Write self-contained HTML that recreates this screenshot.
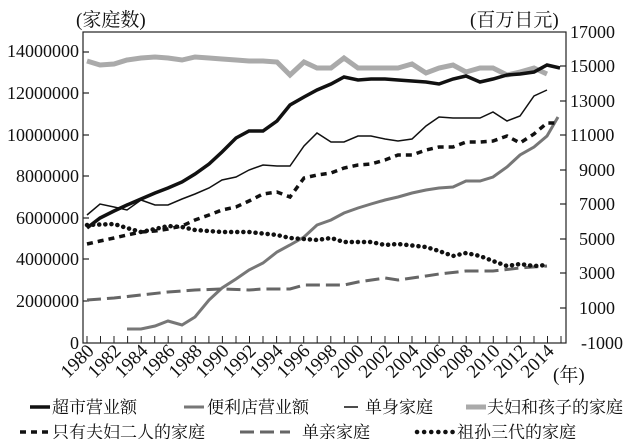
<!DOCTYPE html>
<html><head><meta charset="utf-8"><style>
body{margin:0;background:#fff}
text{font-family:"Liberation Serif","Noto Serif CJK SC",serif;fill:#111}
</style></head><body>
<svg width="624" height="439" viewBox="0 0 624 439" xmlns="http://www.w3.org/2000/svg">
<rect width="624" height="439" fill="#fff"/>
<text x="76" y="26" font-size="19">(家庭数)</text>
<text x="470" y="26" font-size="19">(百万日元)</text>
<rect x="83" y="32" width="483" height="311" fill="none" stroke="#222" stroke-width="1.2"/>
<g font-size="18" text-anchor="end">
<text x="79" y="57">14000000</text><text x="79" y="99">12000000</text><text x="79" y="141">10000000</text>
<text x="79" y="182">8000000</text><text x="79" y="224">6000000</text><text x="79" y="265">4000000</text>
<text x="79" y="307">2000000</text><text x="79" y="349">0</text>
</g>
<g stroke="#222" stroke-width="1.2">
<line x1="83" y1="52" x2="89" y2="52"/><line x1="83" y1="93" x2="89" y2="93"/><line x1="83" y1="135" x2="89" y2="135"/><line x1="83" y1="176" x2="89" y2="176"/><line x1="83" y1="218" x2="89" y2="218"/><line x1="83" y1="259" x2="89" y2="259"/><line x1="83" y1="301" x2="89" y2="301"/>
<line x1="566" y1="66" x2="560" y2="66"/><line x1="566" y1="101" x2="560" y2="101"/><line x1="566" y1="135" x2="560" y2="135"/><line x1="566" y1="170" x2="560" y2="170"/><line x1="566" y1="204" x2="560" y2="204"/><line x1="566" y1="239" x2="560" y2="239"/><line x1="566" y1="273" x2="560" y2="273"/><line x1="566" y1="308" x2="560" y2="308"/>
</g>
<g font-size="18">
<text x="570" y="38">17000</text><text x="570" y="72">15000</text><text x="570" y="107">13000</text><text x="570" y="141">11000</text>
<text x="579" y="176">9000</text><text x="579" y="210">7000</text><text x="579" y="245">5000</text><text x="579" y="279">3000</text><text x="579" y="314">1000</text>
</g>
<text x="623" y="349" font-size="18" text-anchor="end">-1000</text>
<g stroke="#222" stroke-width="1">
<path d="M87 343v-7M100.5 343v-7M114 343v-7M127.6 343v-7M141.2 343v-7M154.7 343v-7M168.2 343v-7M181.8 343v-7M195.3 343v-7M208.9 343v-7M222.4 343v-7M236 343v-7M249.5 343v-7M263 343v-7M276.6 343v-7M290.1 343v-7M303.7 343v-7M317.2 343v-7M330.8 343v-7M344.3 343v-7M357.8 343v-7M371.4 343v-7M385 343v-7M398.5 343v-7M412 343v-7M425.6 343v-7M439.1 343v-7M452.7 343v-7M466.2 343v-7M479.8 343v-7M493.3 343v-7M506.8 343v-7M520.4 343v-7M534 343v-7M547.5 343v-7M561 343v-7"/>
</g>
<g font-size="19" text-anchor="end">
<text transform="translate(95,352) rotate(-45)">1980</text>
<text transform="translate(122,352) rotate(-45)">1982</text>
<text transform="translate(149,352) rotate(-45)">1984</text>
<text transform="translate(176,352) rotate(-45)">1986</text>
<text transform="translate(203,352) rotate(-45)">1988</text>
<text transform="translate(230,352) rotate(-45)">1990</text>
<text transform="translate(257,352) rotate(-45)">1992</text>
<text transform="translate(284,352) rotate(-45)">1994</text>
<text transform="translate(311,352) rotate(-45)">1996</text>
<text transform="translate(338,352) rotate(-45)">1998</text>
<text transform="translate(365,352) rotate(-45)">2000</text>
<text transform="translate(393,352) rotate(-45)">2002</text>
<text transform="translate(420,352) rotate(-45)">2004</text>
<text transform="translate(447,352) rotate(-45)">2006</text>
<text transform="translate(474,352) rotate(-45)">2008</text>
<text transform="translate(501,352) rotate(-45)">2010</text>
<text transform="translate(528,352) rotate(-45)">2012</text>
<text transform="translate(555,352) rotate(-45)">2014</text>
</g>
<text x="553" y="381" font-size="19">(年)</text>

<polyline fill="none" stroke="#aaa" stroke-width="5" points="87,61 100,65 114,64 127,60 141,58 155,57 168,58 182,60 195,57 209,58 222,59 236,60 249,61 263,61 277,62 290,75 304,62 317,68 331,68 344,58 358,68 371,68 385,68 398,68 412,64 426,73 439,68 453,65 466,72 480,68 493,68 507,75 520,72 534,68 547,74"/>
<polyline fill="none" stroke="#111" stroke-width="3.5" points="87,228 100,218 114,211 127,205 141,199 155,193 168,188 182,182 195,174 209,164 222,152 236,138 249,131 263,131 277,121 290,105 304,97 317,90 331,84 344,77 358,80 371,79 385,79 398,80 412,81 426,82 439,84 453,79 466,76 480,82 493,79 507,75 520,74 534,72 547,65 560,68"/>
<polyline fill="none" stroke="#777" stroke-width="3" points="127,329 141,329 155,326 168,321 182,325 195,317 209,300 222,288 236,279 249,270 263,263 277,252 290,245 304,237 317,225 331,220 344,213 358,208 371,204 385,200 398,197 412,193 426,190 439,188 453,187 466,181 480,181 493,177 507,167 520,155 534,147 547,136 558,117"/>
<polyline fill="none" stroke="#111" stroke-width="1.5" points="87,215 100,204 114,207 127,210 141,200 155,205 168,205 182,199 195,194 209,188 222,180 236,177 249,170 263,165 277,166 290,166 304,146 317,133 331,142 344,142 358,136 371,136 385,139 398,141 412,139 426,126 439,117 453,118 466,118 480,118 493,112 507,121 520,116 534,96 547,90"/>
<polyline fill="none" stroke="#111" stroke-width="3.5" stroke-dasharray="6,5" points="87,244 100,241 114,238 127,235 141,232 155,231 168,229 182,226 195,220 209,215 222,210 236,207 249,201 263,194 277,192 290,197 304,178 317,175 331,173 344,168 358,165 371,164 385,160 398,155 412,155 426,150 439,147 453,147 466,142 480,142 493,141 507,136 520,143 534,134 547,123 556,123"/>
<polyline fill="none" stroke="#666" stroke-width="3" stroke-dasharray="14,6" points="87,300 114,298 141,295 168,292 195,290 222,289 249,290 263,289 290,289 304,285 331,285 344,285 358,282 385,278 398,280 426,276 439,274 466,271 493,271 520,268 547,266"/>
<polyline fill="none" stroke="#111" stroke-width="4.5" stroke-dasharray="0.1,6" stroke-linecap="round" points="87,225 114,224 127,228 141,232 155,229 168,226 182,227 195,230 222,232 249,232 277,235 290,238 317,240 331,238 344,242 371,242 385,245 398,244 426,247 439,251 453,256 466,253 480,256 493,261 507,266 520,264 534,266 547,265"/>

<g font-size="17">
<line x1="30" y1="407" x2="50" y2="407" stroke="#111" stroke-width="3.5"/><text x="52" y="413">超市营业额</text>
<line x1="184" y1="407" x2="204" y2="407" stroke="#777" stroke-width="3"/><text x="207" y="413">便利店营业额</text>
<line x1="344" y1="407" x2="358" y2="407" stroke="#111" stroke-width="1.5"/><text x="365" y="413">单身家庭</text>
<line x1="466" y1="407" x2="486" y2="407" stroke="#aaa" stroke-width="5"/><text x="487" y="413">夫妇和孩子的家庭</text>
<line x1="20" y1="432" x2="50" y2="432" stroke="#111" stroke-width="3.5" stroke-dasharray="6,5"/><text x="52" y="438">只有夫妇二人的家庭</text>
<line x1="240" y1="432" x2="290" y2="432" stroke="#666" stroke-width="3" stroke-dasharray="14,6"/><text x="302" y="438">单亲家庭</text>
<line x1="417" y1="432" x2="453" y2="432" stroke="#111" stroke-width="4.5" stroke-dasharray="0.1,7" stroke-linecap="round"/><text x="457" y="438">祖孙三代的家庭</text>
</g>
</svg>
</body></html>
